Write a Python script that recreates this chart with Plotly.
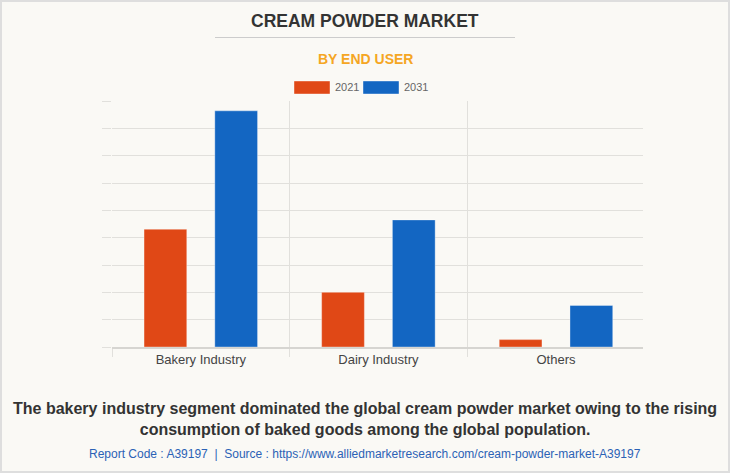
import plotly.graph_objects as go

# ---- data ----
categories = ["Bakery Industry", "Dairy Industry", "Others"]
series_names = ["2021", "2031"]
values_2021 = [4.31, 2.00, 0.27]
values_2031 = [8.64, 4.65, 1.52]
colors = ["#e04816", "#1366c2"]

title = "CREAM POWDER MARKET"
subtitle = "BY END USER"
caption = ("The bakery industry segment dominated the global cream powder market owing to the rising<br>"
           "consumption of baked goods among the global population.")
source = ("Report Code : A39197  |  Source : https://www.alliedmarketresearch.com/cream-powder-market-A39197")

# ---- layout geometry (pixels) ----
WIDTH, HEIGHT = 730, 473
L, R, T, B = 112, 87, 101, 126
PW, PH = WIDTH - L - R, HEIGHT - T - B


def fx(px):
    return (px - L) / PW


def fy(py):
    return 1 - (py - T) / PH


FONT = "Liberation Sans, Arial, sans-serif"
GRID = "#e1e0dc"

fig = go.Figure()
for name, vals, col in zip(series_names, [values_2021, values_2031], colors):
    fig.add_trace(go.Bar(
        x=categories, y=vals, name=name,
        marker=dict(color=col, line=dict(color="rgba(255,255,255,0.35)", width=1)),
        showlegend=False,
    ))

shapes = [
    # outer border
    dict(type="rect", xref="paper", yref="paper",
         x0=fx(1), x1=fx(WIDTH - 1), y0=fy(HEIGHT - 1), y1=fy(1),
         line=dict(color="#dedede", width=2), fillcolor="rgba(0,0,0,0)", layer="below"),
    # title underline
    dict(type="line", xref="paper", yref="paper",
         x0=fx(215), x1=fx(515), y0=fy(37.5), y1=fy(37.5),
         line=dict(color="#cccccc", width=1)),
]
annotations = [
    dict(text="<b>" + title + "</b>", x=fx(365), y=fy(21), xref="paper", yref="paper",
         showarrow=False, xanchor="center", yanchor="middle",
         font=dict(family=FONT, size=17.5, color="#333333")),
    dict(text="<b>" + subtitle + "</b>", x=fx(365), y=fy(59), xref="paper", yref="paper",
         showarrow=False, xanchor="center", yanchor="middle",
         font=dict(family=FONT, size=14, color="#f5a623")),
    dict(text="<b>" + caption + "</b>", x=fx(365), y=fy(419), xref="paper", yref="paper",
         showarrow=False, xanchor="center", yanchor="middle", align="center",
         font=dict(family=FONT, size=16, color="#333333")),
    dict(text=source, x=fx(365), y=fy(454), xref="paper", yref="paper",
         showarrow=False, xanchor="center", yanchor="middle",
         font=dict(family=FONT, size=12, color="#2b62b5")),
]

# custom legend
leg_x = [294, 363]
for name, col, x0 in zip(series_names, colors, leg_x):
    shapes.append(dict(type="rect", xref="paper", yref="paper",
                       x0=fx(x0), x1=fx(x0 + 36), y0=fy(94), y1=fy(81),
                       fillcolor=col, line=dict(color="rgba(255,255,255,0.4)", width=1)))
    annotations.append(dict(text=name, x=fx(x0 + 39), y=fy(87.5), xref="paper", yref="paper",
                            showarrow=False, xanchor="left", yanchor="middle",
                            font=dict(family=FONT, size=11, color="#666666")))

fig.update_layout(
    width=WIDTH, height=HEIGHT,
    margin=dict(l=L, r=R, t=T, b=B),
    paper_bgcolor="#faf9f5", plot_bgcolor="#faf9f5",
    barmode="group", bargap=0.203, bargroupgap=0.396,
    shapes=shapes, annotations=annotations,
    showlegend=False,
)
fig.update_xaxes(
    type="category", range=[-0.5, 2.49],
    tickson="boundaries", showgrid=True, gridcolor=GRID, gridwidth=1,
    ticks="outside", ticklen=8, tickcolor=GRID,
    showline=True, linecolor="#d6d5d1", linewidth=1.5,
    tickfont=dict(family=FONT, size=13, color="#444444"),
)
fig.update_yaxes(
    range=[0, 9], dtick=1, showgrid=True, gridcolor=GRID, gridwidth=1,
    showticklabels=False, ticks="outside", ticklen=9, tickcolor=GRID,
    zeroline=False,
)

fig.write_html("out.html",
               config={"displayModeBar": False},
               post_script="document.body.style.margin='0';document.body.style.overflow='hidden';")
